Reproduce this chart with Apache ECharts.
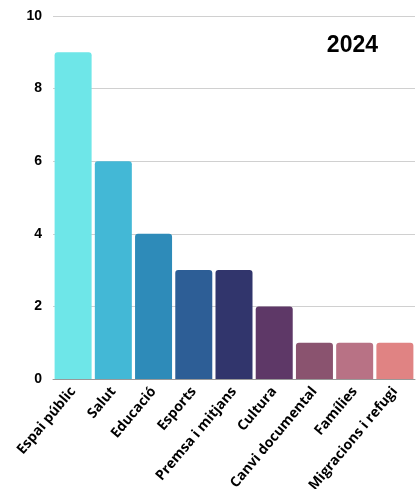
<!DOCTYPE html>
<html><head><meta charset="utf-8">
<script src="https://cdn.jsdelivr.net/npm/echarts@6/dist/echarts.min.js"></script>
<style>html,body{margin:0;padding:0;background:#fff}#c{width:416px;height:489px}</style>
</head><body><div id="c"></div>
<script>
const categories = ['Espai públic','Salut','Educació','Esports','Premsa i mitjans','Cultura','Canvi documental','Famílies','Migracions i refugi'];
const values = [9,6,4,3,3,2,1,1,1];
const colors = ['#6ee6e8','#43b8d6','#2e8bb9','#2d5e96','#31356c','#5e3867','#8a536f','#b87285','#e08383'];
const yTicks = [0,2,4,6,8,10];
const title = '2024';
const chart = echarts.init(document.getElementById('c'));
chart.setOption({
  animation:false,
  title:{text:title,right:33,top:29,textStyle:{fontFamily:'Liberation Sans',fontWeight:'bold',fontSize:23,color:'#000'}},
  grid:{left:53,right:1,top:16,bottom:110,outerBoundsMode:'none',containLabel:false},
  xAxis:{type:'category',data:categories,
    axisLine:{show:true,lineStyle:{color:'#999'}},axisTick:{show:false},
    axisLabel:{rotate:50,interval:0,margin:10,color:'#000',fontFamily:'Open Sans',fontWeight:'bold',fontSize:14}},
  yAxis:{type:'value',min:yTicks[0],max:yTicks[yTicks.length-1],interval:2,
    axisLine:{show:false},axisTick:{show:false},
    splitLine:{lineStyle:{color:'#d0d0d0'}},
    axisLabel:{margin:11,color:'#000',fontFamily:'Liberation Sans',fontWeight:'bold',fontSize:14}},
  series:[{type:'bar',barCategoryGap:'8%',
    data:values.map((v,i)=>({value:v,itemStyle:{color:colors[i]}})),
    itemStyle:{borderRadius:[3,3,0,0]}}]
});
</script></body></html>
